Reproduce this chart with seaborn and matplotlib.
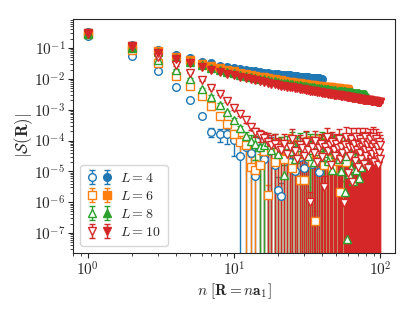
import matplotlib
matplotlib.use("Agg")
import matplotlib.pyplot as plt
import numpy as np
import seaborn as sns
from matplotlib.legend_handler import HandlerTuple

# system sizes and markers
L_VALUES = [4, 6, 8, 10]
MARKERS = ["o", "s", "^", "v"]

# open symbols: log10 |S(R)|, n = 1, 2, ...
open_log_L4 = [
    -0.60, -1.27, -1.75, -2.25, -2.70, -3.19, -3.71, -3.78, -3.80, -3.97,
    -4.50, -4.20, -4.39, -5.16, -4.25, -4.60, -4.35, -4.20, -4.80, -5.60,
    -5.80, -4.45, -4.30, -4.70, -4.35, -5.00, -4.25, -4.55, -4.40, -4.90,
    -4.30, -4.60, -4.35, -4.75, -4.30, -4.50, -4.65, -5.03, -4.40, -4.55,
]
open_log_L6 = [
    -0.55, -1.05, -1.50, -1.90, -2.23, -2.55, -2.89, -3.19, -3.48, -3.78,
    -4.05, -4.15, -4.86, -4.97, -4.80, -4.35, -5.77, -4.25, -4.70, -4.30,
    -4.20, -4.60, -4.30, -4.15, -4.90, -4.35, -4.20, -5.29, -4.45, -5.29,
    -4.25, -4.50, -4.20, -4.70, -4.30, -6.61, -4.40, -4.15, -4.55, -4.25,
    -4.80, -4.30, -4.20, -4.60, -4.35, -4.25, -4.90, -4.30, -4.45, -4.20,
    -4.65, -4.30, -5.67, -4.25, -4.50, -4.35, -4.20, -4.70, -4.30, -4.40,
]
open_log_L8 = [
    -0.55, -1.00, -1.40, -1.70, -2.00, -2.33, -2.58, -2.84, -3.09, -3.35,
    -3.61, -3.85, -4.00, -4.10, -4.20, -4.15, -4.05, -4.30, -4.10, -4.45,
    -4.20, -5.12, -4.15, -4.35, -4.05, -4.60, -4.20, -4.10, -4.40, -4.25,
    -4.05, -4.50, -4.15, -4.30, -4.70, -4.10, -4.35, -4.20, -4.55, -4.05,
    -4.40, -4.15, -4.30, -4.65, -4.10, -4.25, -4.95, -4.20, -4.45, -4.15,
    -4.30, -4.60, -4.10, -5.00, -4.35, -4.20, -5.67, -4.50, -7.20, -4.25,
    -5.10, -4.15, -4.90, -4.40, -5.30, -4.20, -4.60, -4.95, -4.10, -4.45,
    -5.20, -4.30, -4.15, -4.85, -4.40, -4.20, -4.55, -4.25, -4.70, -4.35,
]
open_log_L10 = [
    -0.50, -0.95, -1.30, -1.55, -1.80, -2.05, -2.30, -2.50, -2.72, -2.95,
    -3.15, -3.35, -3.55, -3.72, -3.82, -3.92, -4.05, -4.15, -4.10, -4.25,
    -4.30, -4.10, -4.45, -4.20, -3.95, -4.35, -4.60, -4.15, -4.25, -4.50,
    -4.05, -4.30, -5.99, -4.20, -4.40, -4.00, -4.70, -4.25, -4.10, -4.55,
    -5.50, -4.20, -3.90, -4.35, -4.15, -4.80, -4.05, -4.30, -4.50, -4.10,
    -4.25, -3.95, -4.60, -4.20, -4.40, -6.03, -4.15, -3.90, -4.35, -5.05,
    -4.20, -4.50, -3.95, -5.35, -4.25, -4.10, -4.65, -3.90, -4.30, -4.85,
    -4.15, -4.40, -3.95, -4.60, -4.20, -4.05, -4.75, -4.30, -3.90, -4.50,
    -4.15, -4.90, -4.05, -4.35, -3.95, -4.60, -4.20, -4.45, -3.90, -4.70,
    -4.10, -4.35, -3.95, -4.55, -4.20, -4.80, -4.05, -4.40, -4.15, -4.60,
]

# open symbols: relative error bars (err / value)
open_rel_L4 = [
    0.02, 0.03, 0.05, 0.08, 0.10, 0.15, 0.35, 0.45, 0.50, 0.70,
    1.25, 1.10, 1.20, 1.45, 1.15, 1.30, 1.20, 1.10, 1.40, 1.55,
    1.60, 1.25, 1.15, 1.35, 1.20, 1.45, 1.10, 1.30, 1.20, 1.40,
    1.15, 1.30, 1.20, 1.35, 1.15, 1.25, 1.30, 1.40, 1.20, 1.30,
]
open_rel_L6 = [
    0.02, 0.03, 0.04, 0.06, 0.08, 0.10, 0.12, 0.15, 0.20, 0.30, 0.60,
    1.10, 1.04, 1.20, 1.25, 1.08, 1.15, 1.22, 1.08, 1.20, 1.10,
    1.04, 1.15, 1.22, 1.08, 1.25, 1.10, 1.04, 1.30, 1.15, 1.35,
    1.08, 1.20, 1.04, 1.22, 1.10, 1.40, 1.15, 1.08, 1.20, 1.04,
    1.22, 1.10, 1.08, 1.20, 1.15, 1.04, 1.25, 1.10, 1.20, 1.08,
    1.22, 1.15, 1.35, 1.08, 1.20, 1.10, 1.04, 1.22, 1.15,
]
open_rel_L8 = [
    0.02, 0.03, 0.04, 0.05, 0.06, 0.08, 0.10, 0.12, 0.15, 0.20,
    0.25, 0.35, 0.50, 0.70,
    1.08, 1.15, 1.04, 1.20, 1.10, 1.30, 1.08, 1.15, 1.04, 1.22,
    1.10, 1.08, 1.20, 1.15, 1.04, 1.22, 1.10, 1.08, 1.25, 1.04,
    1.15, 1.10, 1.20, 1.08, 1.22, 1.15, 1.04, 1.10, 1.20, 1.08,
    1.15, 1.25, 1.08, 1.20, 1.04, 1.10, 1.22, 1.15, 1.08, 1.30,
    1.10, 1.08, 1.35, 1.20, 1.10, 1.22, 1.08, 1.15, 1.20, 1.04,
    1.25, 1.10, 1.08, 1.22, 1.15, 1.08, 1.20, 1.10, 1.22, 1.04,
    1.15, 1.08, 1.20, 1.10, 1.22, 1.15,
]
open_rel_L10 = [
    0.02, 0.02, 0.03, 0.04, 0.05, 0.06, 0.07, 0.08, 0.10, 0.12,
    0.15, 0.18, 0.22, 0.30, 0.40, 0.60,
    1.04, 1.10, 1.08, 1.20, 1.15, 1.08, 1.10, 1.22, 1.04, 1.15,
    1.08, 1.20, 1.10, 1.04, 1.35, 1.08, 1.15, 1.10, 1.22, 1.08,
    1.04, 1.20, 1.10, 1.08, 1.25, 1.15, 1.04, 1.10, 1.20, 1.08,
    1.15, 1.08, 1.22, 1.10, 1.04, 1.15, 1.08, 1.20, 1.10, 1.30,
    1.08, 1.15, 1.04, 1.22, 1.10, 1.08, 1.20, 1.04, 1.15, 1.25,
    1.10, 1.08, 1.20, 1.15, 1.04, 1.10, 1.22, 1.08, 1.15, 1.20,
    1.08, 1.22, 1.10, 1.04, 1.15, 1.20, 1.08, 1.10, 1.04, 1.22,
    1.15, 1.08, 1.20, 1.10, 1.08, 1.25, 1.04, 1.15, 1.10, 1.20,
    1.08, 1.22, 1.10, 1.15,
]

# filled symbols: log10 |S(R)|
filled_log_L4 = [
    -0.47, -0.89, -1.05, -1.22, -1.34, -1.44, -1.50, -1.57, -1.62, -1.66,
    -1.69, -1.72, -1.74, -1.76, -1.78, -1.80, -1.81, -1.83, -1.84, -1.85,
    -1.86, -1.87, -1.88, -1.89, -1.90, -1.91, -1.92, -1.93, -1.93, -1.94,
    -1.95, -1.95, -1.96, -1.96, -1.97, -1.97, -1.98, -1.98, -1.99, -1.99,
]
filled_log_L6 = [
    -0.50, -0.93, -1.10, -1.28, -1.40, -1.51, -1.58, -1.65, -1.71, -1.76,
    -1.80, -1.84, -1.87, -1.90, -1.93, -1.95, -1.97, -1.99, -2.01, -2.03,
    -2.05, -2.07, -2.09, -2.10, -2.11, -2.13, -2.14, -2.15, -2.16, -2.17,
    -2.18, -2.19, -2.20, -2.21, -2.21, -2.22, -2.23, -2.24, -2.24, -2.25,
    -2.26, -2.26, -2.27, -2.27, -2.28, -2.28, -2.29, -2.29, -2.30, -2.30,
    -2.31, -2.31, -2.32, -2.32, -2.33, -2.33, -2.33, -2.34, -2.34, -2.35,
]
filled_log_L8 = [
    -0.52, -0.96, -1.14, -1.32, -1.45, -1.56, -1.64, -1.71, -1.77, -1.82,
    -1.86, -1.90, -1.94, -1.97, -2.00, -2.02, -2.04, -2.06, -2.08, -2.10,
    -2.12, -2.13, -2.15, -2.16, -2.17, -2.19, -2.20, -2.21, -2.22, -2.23,
    -2.24, -2.25, -2.26, -2.27, -2.28, -2.29, -2.29, -2.30, -2.31, -2.32,
    -2.32, -2.33, -2.34, -2.34, -2.35, -2.35, -2.36, -2.37, -2.37, -2.38,
    -2.38, -2.39, -2.39, -2.40, -2.40, -2.41, -2.41, -2.42, -2.42, -2.43,
    -2.43, -2.44, -2.44, -2.44, -2.45, -2.45, -2.46, -2.46, -2.46, -2.47,
    -2.47, -2.48, -2.48, -2.48, -2.49, -2.49, -2.50, -2.50, -2.50, -2.51,
]
filled_log_L10 = [
    -0.53, -0.98, -1.17, -1.36, -1.50, -1.61, -1.70, -1.77, -1.84, -1.89,
    -1.94, -1.98, -2.02, -2.05, -2.08, -2.11, -2.13, -2.16, -2.18, -2.20,
    -2.22, -2.23, -2.25, -2.26, -2.28, -2.29, -2.31, -2.32, -2.33, -2.34,
    -2.36, -2.37, -2.38, -2.39, -2.40, -2.41, -2.42, -2.43, -2.44, -2.45,
    -2.45, -2.46, -2.47, -2.48, -2.49, -2.49, -2.50, -2.51, -2.52, -2.52,
    -2.53, -2.54, -2.54, -2.55, -2.56, -2.56, -2.57, -2.57, -2.58, -2.59,
    -2.59, -2.60, -2.60, -2.61, -2.61, -2.62, -2.62, -2.63, -2.63, -2.64,
    -2.64, -2.65, -2.65, -2.66, -2.66, -2.67, -2.67, -2.68, -2.68, -2.68,
    -2.69, -2.69, -2.70, -2.70, -2.70, -2.71, -2.71, -2.72, -2.72, -2.72,
    -2.73, -2.73, -2.73, -2.74, -2.74, -2.74, -2.75, -2.75, -2.75, -2.76,
]
FILLED_REL = 0.03

OPEN_LOG = [open_log_L4, open_log_L6, open_log_L8, open_log_L10]
OPEN_REL = [open_rel_L4, open_rel_L6, open_rel_L8, open_rel_L10]
FILLED_LOG = [filled_log_L4, filled_log_L6, filled_log_L8, filled_log_L10]

sns.set_theme(style="ticks")
plt.rcParams.update({
    "font.family": "serif",
    "font.serif": ["cmr10"],
    "mathtext.fontset": "cm",
    "axes.formatter.use_mathtext": True,
    "axes.unicode_minus": True,
})
colors = sns.color_palette("tab10", 4)

fig = plt.figure(figsize=(4.15, 3.12), dpi=100)
ax = fig.add_axes([0.176, 0.19, 0.776, 0.748])
ax.set_xscale("log")
ax.set_yscale("log")

handles, labels = [], []
for L, mk, col, o_log, o_rel, f_log in zip(L_VALUES, MARKERS, colors,
                                           OPEN_LOG, OPEN_REL, FILLED_LOG):
    n = np.arange(1, len(o_log) + 1)
    s_open = 10.0 ** np.array(o_log)
    s_fill = 10.0 ** np.array(f_log)
    e_open = ax.errorbar(n, s_open, yerr=s_open * np.array(o_rel), fmt=mk,
                         color=col, mfc="white", mec=col, mew=1.0, ms=5.5,
                         elinewidth=1.0, capsize=2, capthick=1.0)
    e_fill = ax.errorbar(n, s_fill, yerr=s_fill * FILLED_REL, fmt=mk,
                         color=col, ms=5.5, elinewidth=1.0, capsize=2,
                         capthick=1.0)
    handles.append((e_open, e_fill))
    labels.append(rf"$L = {L}$")

ax.set_xlim(10 ** -0.1, 10 ** 2.1)
ax.set_ylim(2.3e-8, 0.85)
ax.set_xlabel(r"$n\ [\mathbf{R} = n\mathbf{a}_1]$", fontsize=11, labelpad=2)
ax.set_ylabel(r"$|\mathcal{S}(\mathbf{R})|$", fontsize=12, labelpad=-1)
ax.tick_params(axis="both", which="major", labelsize=11, length=3.5,
               width=0.8, pad=2)
ax.tick_params(axis="both", which="minor", length=2, width=0.6)
for sp in ax.spines.values():
    sp.set_linewidth(0.8)

ax.legend(handles, labels, loc="lower left", fontsize=10,
          handler_map={tuple: HandlerTuple(ndivide=None, pad=0.4)},
          handlelength=1.8, handletextpad=0.6, labelspacing=0.35,
          borderpad=0.5)

fig.savefig("out.png", dpi=100)
